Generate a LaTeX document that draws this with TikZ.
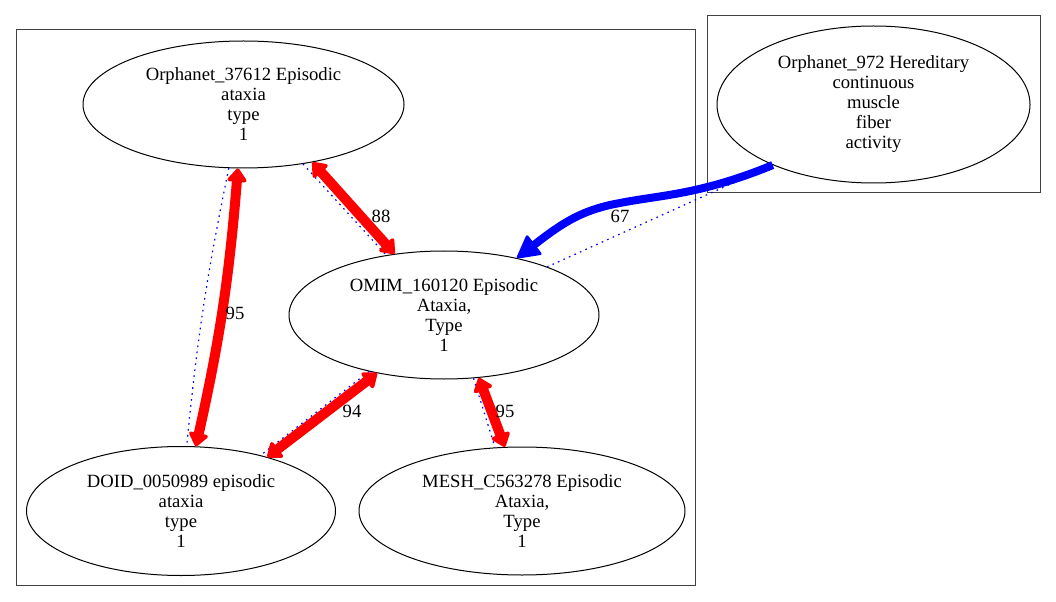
\documentclass[tikz,border=0pt]{standalone}
\usepackage{fontspec}
\setmainfont{Liberation Serif}
\usetikzlibrary{arrows.meta,shapes.geometric}

\tikzset{
  disease/.style={ellipse,draw,line width=0.75pt,inner sep=0pt,align=center,
                  font=\fontsize{14pt}{15pt}\selectfont},
  cluster/.style={draw=black!75,line width=0.75pt},
  simlink/.style={draw=blue,line width=0.9pt,dash pattern=on 1.2pt off 3.3pt},
  redlink/.style={draw=red,line width=7.5pt,
                  {Triangle[round,line width=7.5pt,length=11pt,width=16.5pt]}-{Triangle[round,line width=7.5pt,length=11pt,width=16.5pt]}},
  bluelink/.style={draw=blue,line width=6pt,-{Triangle[round,line width=2pt,length=18pt,width=19pt]}},
  score/.style={font=\fontsize{14pt}{15pt}\selectfont,inner sep=1pt}
}

\begin{document}
\begin{tikzpicture}[x=0.75pt,y=-0.75pt]
        \useasboundingbox (0,0) rectangle (1056,602);
        \draw[cluster] (16,30) rectangle (695.5,585.5);
        \draw[cluster] (707,16) rectangle (1040,193);

        \node[disease,minimum width=240.75pt,minimum height=95.25pt] (o37612) at (243.5,104.5)
              {Orphanet\_37612 Episodic\\ataxia\\type\\1};
        \node[disease,minimum width=234.75pt,minimum height=117.75pt] (o972) at (873.5,104.5)
              {Orphanet\_972 Hereditary\\continuous\\muscle\\fiber\\activity};
        \node[disease,minimum width=232.5pt,minimum height=96pt] (omim) at (444,315)
              {OMIM\_160120 Episodic\\Ataxia,\\Type\\1};
        \node[disease,minimum width=231.75pt,minimum height=96.75pt] (doid) at (181,511)
              {DOID\_0050989 episodic\\ataxia\\type\\1};
        \node[disease,minimum width=244.5pt,minimum height=96pt] (mesh) at (522,511)
              {MESH\_C563278 Episodic\\Ataxia,\\Type\\1};

        \draw[simlink] (o37612.-103.7) to[bend right=3] (doid.85.7);
        \draw[simlink] (o37612.-45.5) -- (omim.134.1);
        \draw[simlink] (omim.-143.4) -- (doid.35.7);
        \draw[simlink] (omim.-65.7) -- (mesh.113.6);
        \draw[simlink] (o972.-149.7) -- (omim.25.9);

        \draw[redlink] (o37612.-95.7) to[bend left=4] (doid.77.5);
        \draw[redlink] (o37612.-40.2) -- (omim.129);
        \draw[redlink] (omim.-139.1) -- (doid.32.2);
        \draw[redlink] (omim.-61.3) -- (mesh.105.4);
        \draw[bluelink] (o972.-149.7) .. controls (700,195) and (660,195) .. (620,203)
                        .. controls (580,210) and (560,225) .. (omim.38.5);

        \node[score] (s95a) at (235,313) {95};
        \node[score] (s88) at (381,216) {88};
        \node[score] (s94) at (352,411) {94};
        \node[score] (s95b) at (505,411) {95};
        \node[score] (s67) at (620,216) {67};
      \end{tikzpicture}
\end{document}
